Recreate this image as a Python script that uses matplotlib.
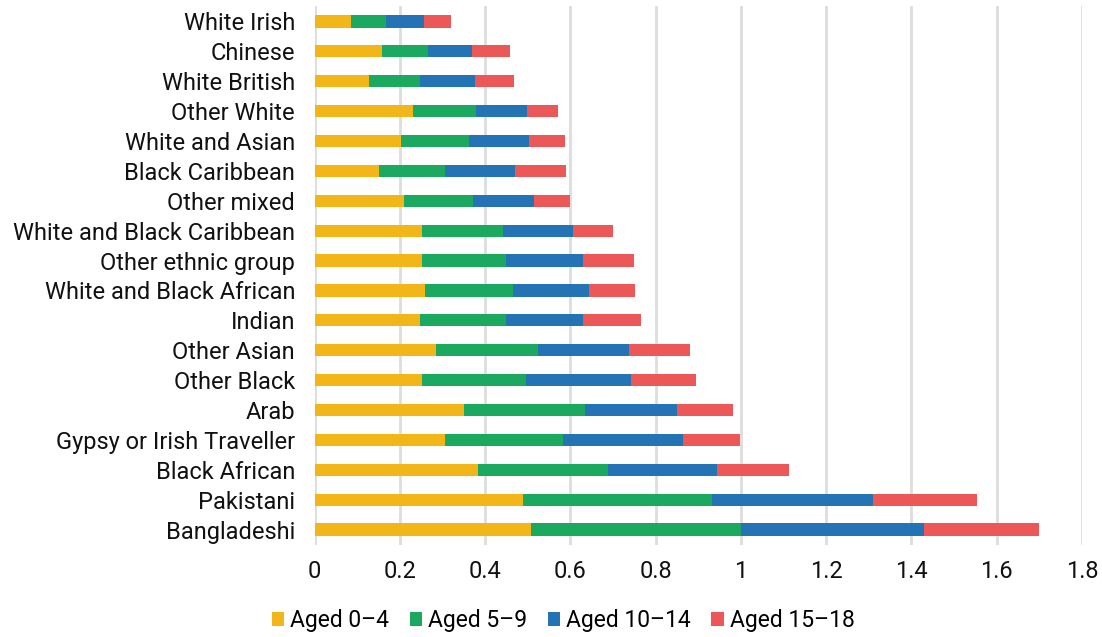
import matplotlib.pyplot as plt
import numpy as np

plt.rcParams['font.family'] = ['Roboto', 'DejaVu Sans']

# Groups, top to bottom as shown
groups = ['White Irish', 'Chinese', 'White British', 'Other White', 'White and Asian',
          'Black Caribbean', 'Other mixed', 'White and Black Caribbean',
          'Other ethnic group', 'White and Black African', 'Indian', 'Other Asian',
          'Other Black', 'Arab', 'Gypsy or Irish Traveller', 'Black African',
          'Pakistani', 'Bangladeshi']

aged_0_4 = [0.085, 0.158, 0.128, 0.231, 0.204, 0.151, 0.210, 0.252, 0.252, 0.259,
            0.248, 0.285, 0.253, 0.350, 0.305, 0.383, 0.488, 0.507]
aged_5_9 = [0.082, 0.107, 0.120, 0.147, 0.158, 0.154, 0.161, 0.190, 0.198, 0.207,
            0.200, 0.240, 0.243, 0.284, 0.277, 0.305, 0.445, 0.494]
aged_10_14 = [0.090, 0.105, 0.129, 0.121, 0.142, 0.166, 0.143, 0.165, 0.180, 0.177,
              0.182, 0.213, 0.246, 0.216, 0.283, 0.257, 0.377, 0.429]
aged_15_18 = [0.064, 0.088, 0.090, 0.072, 0.084, 0.118, 0.086, 0.093, 0.120, 0.108,
              0.136, 0.143, 0.152, 0.131, 0.132, 0.167, 0.243, 0.268]

series = [('Aged 0\u20134', aged_0_4, '#F2B619'),
          ('Aged 5\u20139', aged_5_9, '#1BA85F'),
          ('Aged 10\u201314', aged_10_14, '#2474B5'),
          ('Aged 15\u201318', aged_15_18, '#EC5757')]

fig = plt.figure(figsize=(11.02, 6.37), dpi=100)
ax = fig.add_axes([0.2854, 0.1452, 0.6965, 0.8446])

y = np.arange(len(groups))
left = np.zeros(len(groups))
for label, vals, color in series:
    ax.barh(y, vals, left=left, height=0.41, color=color, label=label, zorder=3)
    left += np.array(vals)

ax.set_ylim(len(groups) - 0.5, -0.5)
ax.set_xlim(0, 1.8)
ax.set_xticks(np.arange(0, 1.81, 0.2))
ax.set_xticklabels(['0', '0.2', '0.4', '0.6', '0.8', '1', '1.2', '1.4', '1.6', '1.8'])
ax.set_yticks(y)
ax.set_yticklabels(groups)
ax.tick_params(axis='both', length=0, labelsize=17, colors='#111111')
ax.tick_params(axis='x', pad=11)
ax.tick_params(axis='y', pad=14)
ax.grid(axis='x', color='#DDDDDD', linewidth=2, zorder=0)
for s in ax.spines.values():
    s.set_visible(False)

fig.legend(loc='center', bbox_to_anchor=(0.511, 0.026), ncol=4, frameon=False,
           fontsize=16.5, handlelength=0.55, handleheight=0.55, handletextpad=0.25,
           columnspacing=0.9, borderpad=0)

fig.savefig('out.png', dpi=100)
